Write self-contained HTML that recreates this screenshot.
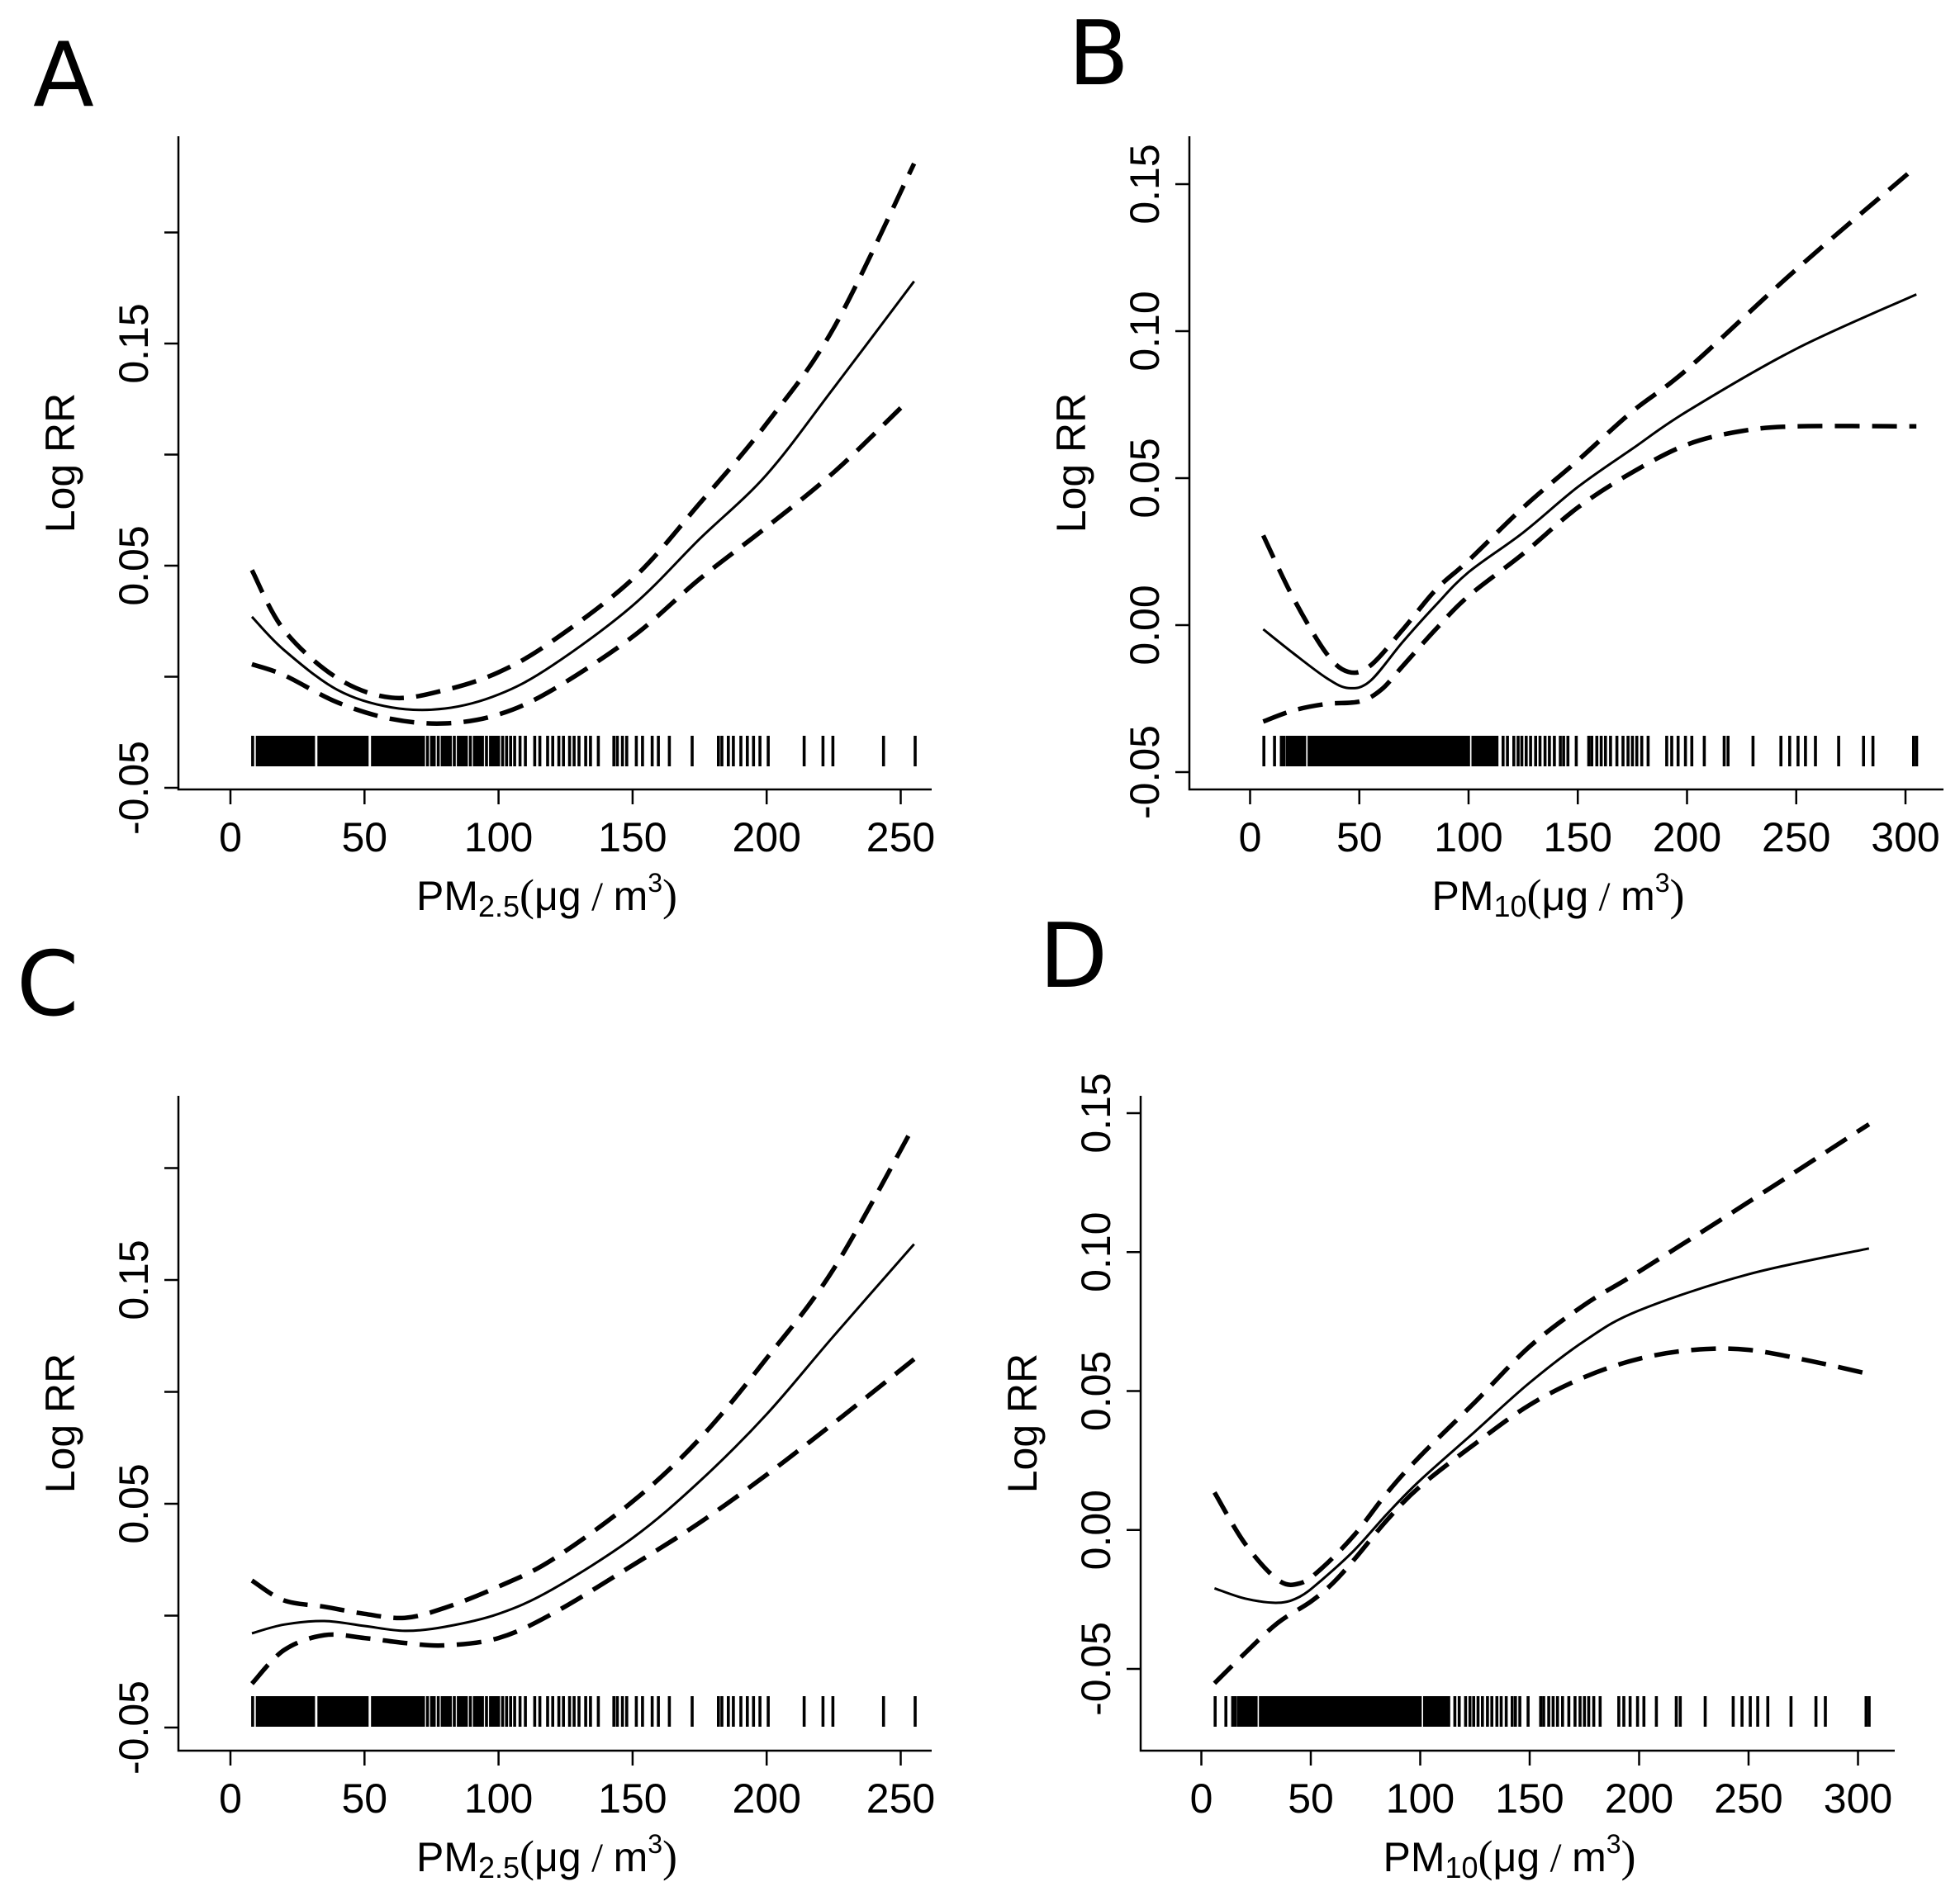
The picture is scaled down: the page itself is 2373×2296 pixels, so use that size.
<!DOCTYPE html>
<html><head><meta charset="utf-8">
<style>
html,body{margin:0;padding:0;background:#fff;}
svg{display:block;}
text{font-family:"Liberation Sans",Arial,sans-serif;fill:#000;}
.lt{font-family:"DejaVu Sans","Liberation Sans",sans-serif;}
</style></head>
<body>
<svg id="fig" width="2373" height="2296" viewBox="0 0 2373 2296" xmlns="http://www.w3.org/2000/svg"></svg>
<script>
// ---- data ----
const pm25X = [8, 20, 40, 60, 80, 100, 120, 150, 175, 200, 225, 255];
const aFit   = [0.027, 0.012, -0.006, -0.0138, -0.0143, -0.008, 0.005, 0.032, 0.062, 0.091, 0.130, 0.178];
const aUpper = [0.048, 0.021, -0.0007, -0.0094, -0.006, 0.002, 0.016, 0.044, 0.078, 0.114, 0.157, 0.231];
const aLowerX = [8, 20, 40, 60, 80, 100, 120, 150, 175, 200, 225, 250];
const aLower = [0.0056, 0.0007, -0.0116, -0.019, -0.021, -0.017, -0.006, 0.018, 0.044, 0.0674, 0.092, 0.121];

const cFit   = [-0.0079, -0.004, -0.0024, -0.0046, -0.0068, -0.005, 0.0008, 0.0117, 0.0347, 0.060, 0.090, 0.125, 0.166];
const cUpper = [0.0157, 0.0068, 0.004, 0.0008, -0.001, 0.0035, 0.013, 0.025, 0.051, 0.079, 0.115, 0.155, 0.219];
const cLower = [-0.0304, -0.0154, -0.0087, -0.010, -0.0122, -0.0133, -0.010, 0.0008, 0.0225, 0.0415, 0.063, 0.086, 0.1146];
const cX = [8, 20, 35, 50, 65, 80, 100, 120, 150, 175, 200, 225, 255];

const bX = [6, 20, 35, 45, 55, 70, 85, 100, 125, 150, 175, 200, 250, 305];
const bFit   = [-0.0014, -0.0097, -0.018, -0.0214, -0.019, -0.0056, 0.0068, 0.018, 0.0315, 0.047, 0.060, 0.0727, 0.094, 0.1125];
const bUpper = [0.0305, 0.0089, -0.0097, -0.0159, -0.0138, -0.0014, 0.012, 0.022, 0.040, 0.056, 0.0727, 0.087, 0.121, 0.156];
const bLowerX = [6, 20, 35, 50, 60, 70, 85, 100, 125, 150, 175, 200, 225, 250, 305];
const bLower = [-0.0328, -0.029, -0.0268, -0.026, -0.022, -0.0138, -0.0014, 0.0099, 0.0243, 0.040, 0.052, 0.0614, 0.066, 0.0676, 0.0676];

const dX = [6, 20, 35, 45, 55, 70, 85, 100, 125, 150, 175, 200, 250, 305];
const dFit   = [-0.021, -0.0247, -0.0262, -0.024, -0.018, -0.0072, 0.0059, 0.0179, 0.0354, 0.053, 0.068, 0.079, 0.092, 0.1013];
const dUpper = [0.0135, -0.005, -0.018, -0.0192, -0.0138, -0.0017, 0.0135, 0.0266, 0.046, 0.066, 0.081, 0.093, 0.118, 0.146];
const dLowerX = [6, 20, 35, 50, 60, 70, 85, 100, 125, 150, 175, 200, 225, 250, 280, 305];
const dLower = [-0.0552, -0.0443, -0.0334, -0.0258, -0.0192, -0.0105, 0.0037, 0.0157, 0.031, 0.045, 0.055, 0.0616, 0.0648, 0.0648, 0.0605, 0.0561];

const pm25Rug = [8.3,10,11,12,13,14,15,16,17,18,19,20,21,22,23,24,25,26,27,28,29,30,31,33,34,35,36,37,38,39,40,41,42,43,44,45,46,47,48,49,50,51,53,54,55,56,57,58,59,60,61,62,63,64,65,66,67,68,69,70,71,72,73.5,75,76,77.5,79,80,81,82,83.5,85,86,87,88,89.5,91,92,93,94,95.5,97,98,99,100,101.5,103,104.5,106,108,110,113.5,115.4,118.3,120.2,122.5,124.2,126.5,128.2,130,132.5,134.3,137.2,143,144.3,146.2,147.8,151.4,153.7,157.3,159.6,163.7,172.2,182,183.3,185.7,187.6,190.4,192.8,195.1,197.5,200.6,214,221,224.7,243.6,255.4];
const pm10Rug = [6.3,11.2,14.3,15.5,17,18,19,20,21,22,23,24,25,27,28,29,30,31,32,33,34,35,36,37,38,39,40,41,42,43,44,45,46,47,48,49,50,51,52,53,54,55,56,57,58,59,60,61,62,63,64,65,66,67,68,69,70,71,72,73,74,75,76,77,78,79,80,81,82,83,84,85,86,87,88,89,90,91,92,93,94,95,96,97,98,99,100,102,103,104,105,106,107,108,109,110,111,112,113,115.8,117.8,120.7,122.7,124.4,126.4,128.4,130.7,132.7,135,137,139.3,142,143.5,145.5,149.3,155,156.4,158.7,160.7,162.7,165,167.9,170.7,173,175,177,179.3,182.2,190.7,193,195.9,199.3,202.2,207.9,217,218.8,230.2,243,247,250.8,254.2,258.8,269.4,280.8,285.1,303.7,305.1];

const xTicks25 = [0, 50, 100, 150, 200, 250];
const xTicks10 = [0, 50, 100, 150, 200, 250, 300];
const yTicksAC = [-0.05, 0, 0.05, 0.10, 0.15, 0.20];
const yLabelsAC = ["-0.05", "", "0.05", "", "0.15", ""];
const yTicksBD = [-0.05, 0, 0.05, 0.10, 0.15];
const yLabelsBD = ["-0.05", "0.00", "0.05", "0.10", "0.15"];

// ---- drawing ----
const NS = "http://www.w3.org/2000/svg";
const svg = document.getElementById("fig");
function mk(tag, attrs, parent) {
  const e = document.createElementNS(NS, tag);
  for (const k in attrs) e.setAttribute(k, attrs[k]);
  (parent || svg).appendChild(e);
  return e;
}
function smoothPath(xs, ys, sx, sy) {
  const p = xs.map((x, i) => [sx(x), sy(ys[i])]);
  let d = "M" + p[0][0].toFixed(1) + "," + p[0][1].toFixed(1);
  for (let i = 0; i < p.length - 1; i++) {
    const p0 = p[i - 1] || p[i], p1 = p[i], p2 = p[i + 1], p3 = p[i + 2] || p2;
    const c1 = [p1[0] + (p2[0] - p0[0]) / 6, p1[1] + (p2[1] - p0[1]) / 6];
    const c2 = [p2[0] - (p3[0] - p1[0]) / 6, p2[1] - (p3[1] - p1[1]) / 6];
    d += " C" + c1[0].toFixed(1) + "," + c1[1].toFixed(1) + " " + c2[0].toFixed(1) + "," + c2[1].toFixed(1) + " " + p2[0].toFixed(1) + "," + p2[1].toFixed(1);
  }
  return d;
}

function panel(cfg) {
  const g = mk("g", {});
  
  
  const sx = v => cfg.x0 + v * cfg.xu;
  const sy = v => cfg.y0 - v * cfg.yu;
  const L = mk("text", {x: cfg.lx, y: cfg.ly, "font-size": 108, class: "lt"}, g);
  L.textContent = cfg.letter;
  
  
  const ax = mk("path", {d: `M${cfg.left},${cfg.top} V${cfg.bottom} H${cfg.right}`, fill: "none", stroke: "#000", "stroke-width": 2.5}, g);
  
  
  cfg.xt.forEach(v => {
    const t = mk("line", {x1: sx(v), x2: sx(v), y1: cfg.bottom, y2: cfg.bottom + 18, stroke: "#000", "stroke-width": 2.5}, g);
    
    
    const tl = mk("text", {x: sx(v), y: cfg.bottom + 75, "font-size": 50, "text-anchor": "middle"}, g);
    tl.textContent = v;
    
    
  });
  cfg.yt.forEach((v, i) => {
    const y = sy(v);
    const t = mk("line", {x1: cfg.left - 17, x2: cfg.left, y1: y, y2: y, stroke: "#000", "stroke-width": 2.5}, g);
    
    
    if (cfg.yl[i]) {
      const tl = mk("text", {x: 0, y: 0, "font-size": 50, "text-anchor": "middle", transform: `translate(${cfg.left - 37},${y}) rotate(-90)`}, g);
      tl.textContent = cfg.yl[i];
      
      
    }
  });
  const yt = mk("text", {x: 0, y: 0, "font-size": 50, "text-anchor": "middle", transform: `translate(${cfg.left - 126},${(cfg.top + cfg.bottom) / 2}) rotate(-90)`}, g);
  yt.textContent = "Log RR";
  
  
  const xt = mk("text", {x: (cfg.left + cfg.right) / 2 - 10, y: cfg.bottom + 146, "font-size": 50, "text-anchor": "middle"}, g);
  
  
  xt.innerHTML = `PM<tspan font-size="36" dy="8">${cfg.sub}</tspan><tspan dy="-8" font-family="Liberation Serif, serif" font-size="54">(</tspan>μg<tspan font-family="Liberation Serif, serif"> / </tspan>m<tspan font-size="32" dy="-22">3</tspan><tspan dy="22" font-family="Liberation Serif, serif" font-size="54">)</tspan>`;
  let rd = "";
  cfg.rug.forEach(v => { rd += `M${sx(v).toFixed(1)},${cfg.rugTop}V${cfg.rugBot}`; });
  const rug = mk("path", {d: rd, stroke: "#000", "stroke-width": 3.6, fill: "none"}, g);
  
  
  const up = mk("path", {d: smoothPath(cfg.ux, cfg.up, sx, sy), fill: "none", stroke: "#000", "stroke-width": 5.5, "stroke-dasharray": "30 15"}, g);
  
  
  const lo = mk("path", {d: smoothPath(cfg.lox, cfg.lo, sx, sy), fill: "none", stroke: "#000", "stroke-width": 5.5, "stroke-dasharray": "30 15"}, g);
  
  
  const fit = mk("path", {d: smoothPath(cfg.fx, cfg.fit, sx, sy), fill: "none", stroke: "#000", "stroke-width": 3}, g);
  
  
}

panel({name: "panel-a", letter: "A", lx: 40, ly: 128, left: 216, right: 1128, top: 165, bottom: 956,
  x0: 279, xu: 3.246, y0: 819.5, yu: 2690, xt: xTicks25, yt: yTicksAC, yl: yLabelsAC, sub: "2.5",
  rug: pm25Rug, rugTop: 891, rugBot: 928,
  fx: pm25X, fit: aFit, ux: pm25X, up: aUpper, lox: aLowerX, lo: aLower});

panel({name: "panel-b", letter: "B", lx: 1293, ly: 102, left: 1440, right: 2353, top: 165, bottom: 956,
  x0: 1513.5, xu: 2.645, y0: 757, yu: 3560, xt: xTicks10, yt: yTicksBD, yl: yLabelsBD, sub: "10",
  rug: pm10Rug, rugTop: 891, rugBot: 928,
  fx: bX, fit: bFit, ux: bX, up: bUpper, lox: bLowerX, lo: bLower});

panel({name: "panel-c", letter: "C", lx: 20, ly: 1229, left: 216, right: 1128, top: 1327, bottom: 2120,
  x0: 279, xu: 3.246, y0: 1956.5, yu: 2710, xt: xTicks25, yt: yTicksAC, yl: yLabelsAC, sub: "2.5",
  rug: pm25Rug, rugTop: 2054, rugBot: 2091,
  fx: cX, fit: cFit, ux: cX, up: cUpper, lox: cX, lo: cLower});

panel({name: "panel-d", letter: "D", lx: 1258, ly: 1195, left: 1381, right: 2294, top: 1327, bottom: 2120,
  x0: 1454.5, xu: 2.65, y0: 1852.7, yu: 3365, xt: xTicks10, yt: yTicksBD, yl: yLabelsBD, sub: "10",
  rug: pm10Rug, rugTop: 2054, rugBot: 2091,
  fx: dX, fit: dFit, ux: dX, up: dUpper, lox: dLowerX, lo: dLower});
</script>
</body></html>
